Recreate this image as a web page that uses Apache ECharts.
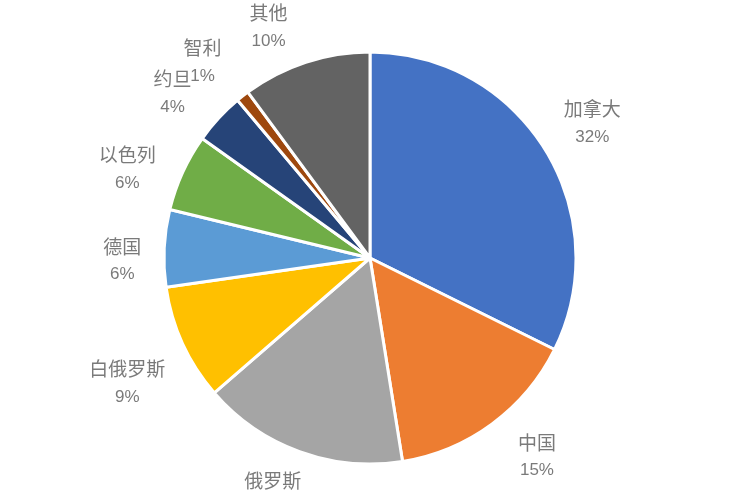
<!DOCTYPE html>
<html>
<head>
<meta charset="utf-8">
<script src="https://cdn.jsdelivr.net/npm/echarts@6/dist/echarts.min.js"></script>
<style>
html,body{margin:0;padding:0;background:#fff;}
#chart{width:750px;height:500px;}
</style>
</head>
<body>
<div id="chart"></div>
<script>
const categories = ['加拿大','中国','俄罗斯','白俄罗斯','德国','以色列','约旦','智利','其他'];
const shares = [32, 15, 16, 9, 6, 6, 4, 1, 10];
const colors = ['#4472C4','#ED7D31','#A5A5A5','#FFC000','#5B9BD5','#70AD47','#264478','#9E480E','#636363'];
// label nudges (px) imitating the reference's best-fit label placement
const labelNudges = [[3,1],[14,-9],[-9,-6],[-8,18],[10,15],[-8,18],[-8,10],[-8,7],[-21,14]];

const total = shares.reduce((a, b) => a + b, 0);
const pieData = categories.map((name, i) => ({ name: name, value: shares[i] }));

// label anchor points: mid-angle of each slice, on a ring outside the pie
let acc = 0;
const labelPoints = categories.map((name, i) => {
  const mid = acc + shares[i] / 2;
  acc += shares[i];
  return {
    name: name,
    value: [1, mid],
    label: { offset: labelNudges[i] }
  };
});

const chart = echarts.init(document.getElementById('chart'), null, { renderer: 'canvas' });
chart.setOption({
  backgroundColor: '#ffffff',
  animation: false,
  color: colors,
  polar: { center: [370, 258], radius: 258 },
  angleAxis: {
    type: 'value', min: 0, max: total, startAngle: 90, clockwise: true,
    show: false, axisLine: { show: false }, splitLine: { show: false }, axisLabel: { show: false }, axisTick: { show: false }
  },
  radiusAxis: {
    type: 'value', min: 0, max: 1,
    show: false, axisLine: { show: false }, splitLine: { show: false }, axisLabel: { show: false }, axisTick: { show: false }
  },
  series: [
    {
      type: 'pie',
      center: [370, 258],
      radius: [0, 206],
      startAngle: 90,
      clockwise: true,
      silent: true,
      label: { show: false },
      labelLine: { show: false },
      itemStyle: { borderColor: '#ffffff', borderWidth: 3 },
      data: pieData
    },
    {
      type: 'scatter',
      coordinateSystem: 'polar',
      symbolSize: 0,
      silent: true,
      z: 5,
      label: {
        show: true,
        position: 'inside',
        formatter: function (p) {
          const i = categories.indexOf(p.name);
          return '{n|' + p.name + '}\n{p|' + Math.round(shares[i] / total * 100) + '%}';
        },
        rich: {
          n: { fontSize: 19, lineHeight: 28, color: '#595959', fontFamily: '"Noto Sans CJK SC", sans-serif', align: 'center' },
          p: { fontSize: 17, lineHeight: 28, color: '#595959', fontFamily: '"Liberation Sans", Arial, sans-serif', align: 'center' }
        }
      },
      emphasis: { disabled: true },
      data: labelPoints
    }
  ]
});
</script>
</body>
</html>
